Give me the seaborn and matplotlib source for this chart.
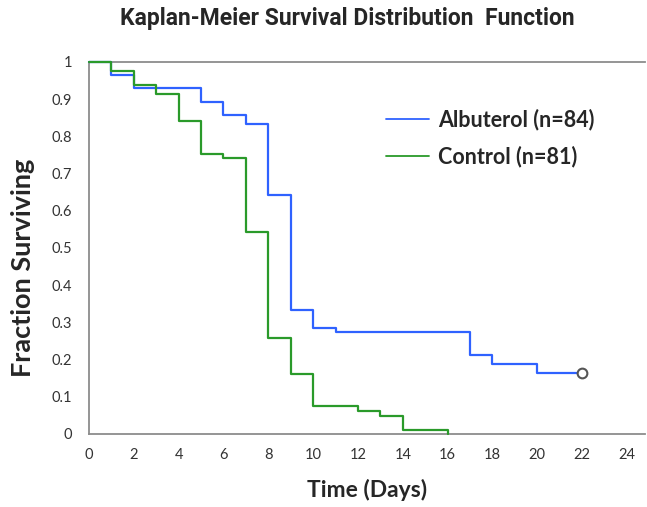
import numpy as np
import pandas as pd
import matplotlib
matplotlib.use("Agg")
import matplotlib.pyplot as plt
import seaborn as sns
from matplotlib.lines import Line2D

# valeurs (temps en jours, fraction survivante)
time_albuterol = [0, 1, 2, 5, 6, 7, 8, 9, 10, 11, 17, 18, 20, 22]
surv_albuterol = [1.0, 0.964, 0.929, 0.893, 0.857, 0.833, 0.643, 0.333, 0.286, 0.274,
                  0.212, 0.188, 0.165, 0.165]
time_control = [0, 1, 2, 3, 4, 5, 6, 7, 8, 9, 10, 12, 13, 14, 16]
surv_control = [1.0, 0.975, 0.938, 0.914, 0.840, 0.753, 0.741, 0.543, 0.259, 0.160,
                0.074, 0.062, 0.049, 0.012, 0.0]
groups = ["Albuterol (n=84)", "Control (n=81)"]
colors = {"Albuterol (n=84)": "#2f62ff", "Control (n=81)": "#2a9a2a"}

df = pd.concat([
    pd.DataFrame({"time": time_albuterol, "surv": surv_albuterol, "group": groups[0]}),
    pd.DataFrame({"time": time_control, "surv": surv_control, "group": groups[1]}),
])

sns.set_style("white")
plt.rcParams["font.family"] = ["Lato", "DejaVu Sans"]

fig = plt.figure(figsize=(6.47, 5.07), dpi=100)
ax = fig.add_axes([0.1376, 0.144, 0.859, 0.734])

sns.lineplot(data=df, x="time", y="surv", hue="group", palette=colors,
             estimator=None, drawstyle="steps-post", linewidth=1.6,
             legend=False, ax=ax, zorder=4, clip_on=False)

# cercle final (censure) sur la courbe albuterol
ax.plot(time_albuterol[-1], surv_albuterol[-1], marker="o", markersize=7,
        markerfacecolor="white", markeredgecolor="#555555", markeredgewidth=1.5,
        zorder=5)

ax.set_xlim(0, 24.8)
ax.set_ylim(0, 1)
ax.set_xticks(np.arange(0, 25, 2))
ax.set_xticks(np.arange(0, 25, 1), minor=True)
ax.set_yticks(np.round(np.arange(0, 1.01, 0.1), 1))
ax.set_yticklabels(["0"] + [f"{v:.1f}" for v in np.arange(0.1, 0.95, 0.1)] + ["1"])

for s in ["left", "bottom", "top"]:
    ax.spines[s].set_color("#8c8c8c")
    ax.spines[s].set_linewidth(1.3)
    ax.spines[s].set_zorder(1)
ax.spines["right"].set_visible(False)

ax.tick_params(axis="x", which="both", direction="out", length=4, width=1,
               color="#8c8c8c", labelsize=10.5, labelcolor="#333333", pad=6)
ax.tick_params(axis="y", which="major", direction="inout", length=8, width=1,
               color="#8c8c8c", labelsize=10.5, labelcolor="#333333", pad=8)

ax.set_xlabel("Time (Days)", fontsize=16.5, fontweight="bold", labelpad=12)
ax.set_ylabel("Fraction Surviving", fontsize=19.5, fontweight="bold")
ax.yaxis.set_label_coords(-0.098, 0.446)

fig.text(0.537, 0.964, "Kaplan-Meier Survival Distribution  Function",
         ha="center", va="center", fontsize=16.5, fontweight="bold",
         family=["Roboto", "DejaVu Sans"])

handles = [Line2D([0], [0], color=colors[g], linewidth=1.3) for g in groups]
leg = ax.legend(handles, groups, loc="upper left", bbox_to_anchor=(0.5, 0.925),
                frameon=False, handlelength=2.0, handletextpad=0.4,
                labelspacing=0.68, prop={"size": 15.5, "weight": "bold"})

fig.savefig("out.png", dpi=100)
